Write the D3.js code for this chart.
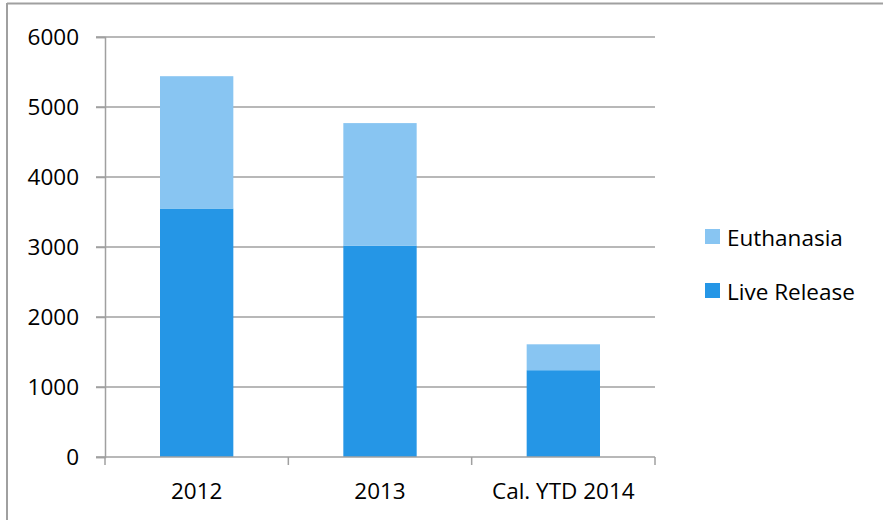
<!DOCTYPE html>
<html>
<head>
<meta charset="utf-8">
<script src="https://cdn.jsdelivr.net/npm/d3@7/dist/d3.min.js"></script>
<style>
html,body{margin:0;padding:0;background:#fff;}
svg{display:block;font-family:"Open Sans",sans-serif;}
</style>
</head>
<body>
<svg id="chart" width="883" height="520"></svg>
<script>
const categories = ["2012", "2013", "Cal. YTD 2014"];
const liveRelease = [3550, 3020, 1240];
const euthanasia = [1890, 1750, 370];
const yTicks = [0, 1000, 2000, 3000, 4000, 5000, 6000];
const seriesNames = ["Live Release", "Euthanasia"];
const seriesColors = ["#2596E6", "#88C5F2"];

const svg = d3.select("#chart");
const W = 883, H = 520;
const plot = {left: 105, right: 655, top: 37, bottom: 457};
const FS = 22.5;

// outer frame (top and left edges visible)
svg.append("line").attr("x1", 7).attr("x2", W).attr("y1", 3.5).attr("y2", 3.5)
  .attr("stroke", "#A0A0A0").attr("stroke-width", 2);
svg.append("line").attr("x1", 7).attr("x2", 7).attr("y1", 3).attr("y2", H)
  .attr("stroke", "#A0A0A0").attr("stroke-width", 2);

const x = d3.scaleBand().domain(categories).range([plot.left, plot.right])
  .paddingInner(0.6).paddingOuter(0.3);
const y = d3.scaleLinear().domain([0, 6000]).range([plot.bottom, plot.top]);

// gridlines
svg.append("g").selectAll("line").data(yTicks.filter(d => d > 0)).join("line")
  .attr("x1", plot.left - 9).attr("x2", plot.right)
  .attr("y1", d => y(d)).attr("y2", d => y(d))
  .attr("stroke", "#A0A0A0").attr("stroke-width", 1.5);

// stacked bars
const data = categories.map((c, i) => ({cat: c, "Live Release": liveRelease[i], "Euthanasia": euthanasia[i]}));
const stack = d3.stack().keys(seriesNames)(data);
svg.append("g").selectAll("g").data(stack).join("g")
  .attr("fill", (d, i) => seriesColors[i])
  .selectAll("rect").data(d => d).join("rect")
  .attr("x", d => x(d.data.cat))
  .attr("width", x.bandwidth())
  .attr("y", d => y(d[1]))
  .attr("height", d => y(d[0]) - y(d[1]));

// y axis
const yAxis = d3.axisLeft(y).tickValues(yTicks).tickSize(9).tickPadding(17).tickFormat(d3.format("d"));
const gy = svg.append("g").attr("transform", `translate(${plot.left},0)`).call(yAxis);
gy.select(".domain").attr("stroke", "#A0A0A0").attr("stroke-width", 1.5);
gy.selectAll(".tick line").attr("stroke", "#A0A0A0").attr("stroke-width", 1.5);
gy.selectAll(".tick text").attr("font-size", FS).attr("font-family", "Open Sans").attr("fill", "#000");

// x axis
const gx = svg.append("g").attr("transform", `translate(0,${plot.bottom})`);
gx.append("line").attr("x1", plot.left - 9).attr("x2", plot.right).attr("y1", 0).attr("y2", 0)
  .attr("stroke", "#A0A0A0").attr("stroke-width", 1.5);
const catW = (plot.right - plot.left) / categories.length;
const bounds = d3.range(categories.length + 1).map(i => plot.left + catW * i);
gx.selectAll("line.tk").data(bounds).join("line").attr("class", "tk")
  .attr("x1", d => d).attr("x2", d => d).attr("y1", 0).attr("y2", 8)
  .attr("stroke", "#A0A0A0").attr("stroke-width", 1.5);
gx.selectAll("text").data(categories).join("text")
  .attr("x", d => x(d) + x.bandwidth() / 2)
  .attr("y", 42)
  .attr("text-anchor", "middle")
  .attr("font-size", FS).attr("fill", "#000")
  .text(d => d);

// legend
const legendItems = [{name: "Euthanasia", color: seriesColors[1]}, {name: "Live Release", color: seriesColors[0]}];
const lg = svg.append("g");
legendItems.forEach((it, i) => {
  const yy = 229 + i * 54;
  lg.append("rect").attr("x", 705).attr("y", yy).attr("width", 15).attr("height", 15).attr("fill", it.color);
  lg.append("text").attr("x", 727).attr("y", yy + 17).attr("font-size", FS).attr("fill", "#000").text(it.name);
});
</script>
</body>
</html>
